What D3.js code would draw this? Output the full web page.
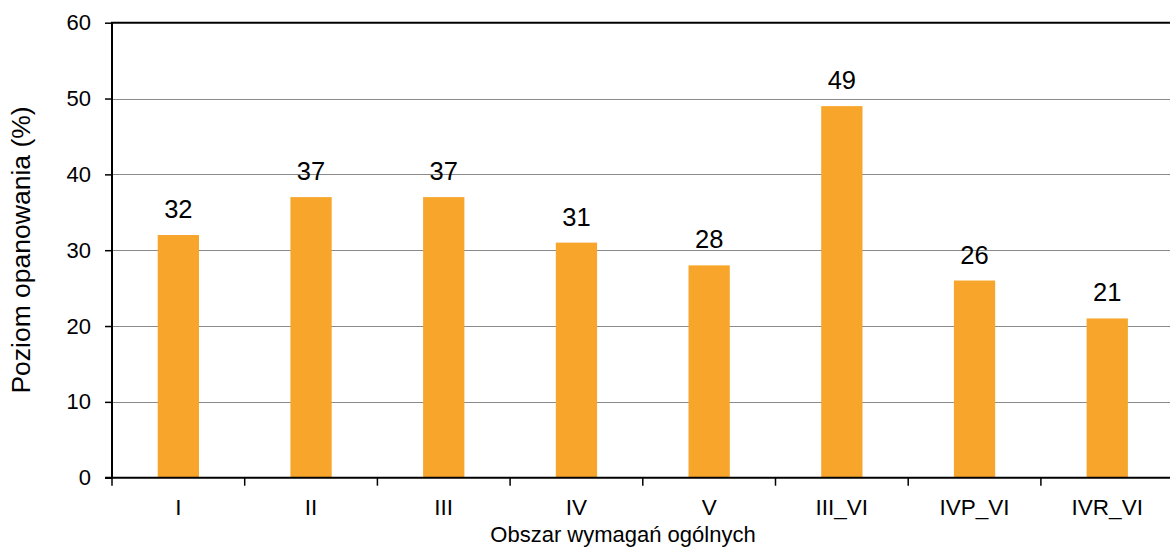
<!DOCTYPE html>
<html>
<head>
<meta charset="utf-8">
<script src="https://cdn.jsdelivr.net/npm/d3@7"></script>
<style>
	body { margin: 0; background: #fff; }
	svg text { font-family: "Liberation Sans", Arial, sans-serif; fill: #000; }
</style>
</head>
<body>
<svg id="chart" width="1170" height="551"></svg>
<script>
// data
const categories = ["I", "II", "III", "IV", "V", "III_VI", "IVP_VI", "IVR_VI"];
const values = [32, 37, 37, 31, 28, 49, 26, 21];
const yTicks = [0, 10, 20, 30, 40, 50, 60];

const svg = d3.select("#chart");

const plotLeft = 112, plotTop = 22.7, plotBottom = 477.7;
const bandWidth = 132.7;
const plotRight = plotLeft + bandWidth * categories.length;

const x = d3.scaleBand()
	.domain(categories)
	.range([plotLeft, plotRight])
	.paddingInner(0.689)
	.paddingOuter(0.689 / 2);

const y = d3.scaleLinear()
	.domain([0, 60])
	.range([plotBottom, plotTop]);

// grid lines (60 is drawn as the black top border)
svg.append("g")
	.selectAll("line")
	.data(yTicks.filter(d => d > 0 && d < 60))
	.enter()
	.append("line")
	.attr("x1", plotLeft)
	.attr("x2", plotRight)
	.attr("y1", d => Math.round(y(d)) + 0.5)
	.attr("y2", d => Math.round(y(d)) + 0.5)
	.attr("stroke", "#8a8a8a")
	.attr("stroke-width", 1);

// bars
svg.append("g")
	.selectAll("rect")
	.data(values)
	.enter()
	.append("rect")
	.attr("x", (d, i) => x(categories[i]))
	.attr("y", d => y(d))
	.attr("width", x.bandwidth())
	.attr("height", d => plotBottom - y(d))
	.attr("fill", "#f7a52b");

// value labels
svg.append("g")
	.selectAll("text")
	.data(values)
	.enter()
	.append("text")
	.attr("x", (d, i) => x(categories[i]) + x.bandwidth() / 2)
	.attr("y", d => y(d) - 17)
	.attr("text-anchor", "middle")
	.style("font-size", "25.5px")
	.text(d => d);

// top border
svg.append("line")
	.attr("x1", plotLeft - 1)
	.attr("x2", plotRight)
	.attr("y1", plotTop)
	.attr("y2", plotTop)
	.attr("stroke", "#000")
	.attr("stroke-width", 2);

// y axis
const yAxis = svg.append("g")
	.attr("transform", `translate(${plotLeft},0)`)
	.call(d3.axisLeft(y).tickValues(yTicks).tickSize(7).tickPadding(14));
yAxis.select(".domain").attr("stroke-width", 2).attr("d", `M0,${plotTop}V${plotBottom + 1}`);
yAxis.selectAll(".tick line").attr("stroke-width", 1.5);
yAxis.selectAll(".tick text").style("font-size", "22px").attr("font-family", null);

// x axis, ticks sit on the band boundaries
const xAxis = svg.append("g")
	.attr("transform", `translate(0,${plotBottom})`);
xAxis.append("line")
	.attr("x1", plotLeft - 7)
	.attr("x2", plotRight)
	.attr("stroke", "#000")
	.attr("stroke-width", 2);
xAxis.selectAll(".xtick")
	.data(d3.range(categories.length + 1))
	.enter()
	.append("line")
	.attr("x1", i => plotLeft + i * bandWidth)
	.attr("x2", i => plotLeft + i * bandWidth)
	.attr("y1", 0)
	.attr("y2", 8)
	.attr("stroke", "#000")
	.attr("stroke-width", 1.5);
xAxis.selectAll(".xlabel")
	.data(categories)
	.enter()
	.append("text")
	.attr("x", d => x(d) + x.bandwidth() / 2)
	.attr("y", 37)
	.attr("text-anchor", "middle")
	.style("font-size", "22.5px")
	.text(d => d);

// axis titles
svg.append("text")
	.attr("x", 623)
	.attr("y", 542)
	.attr("text-anchor", "middle")
	.style("font-size", "22px")
	.text("Obszar wymagań ogólnych");

svg.append("text")
	.attr("transform", "translate(30,250) rotate(-90)")
	.attr("text-anchor", "middle")
	.style("font-size", "26.5px")
	.text("Poziom opanowania (%)");
</script>
</body>
</html>
